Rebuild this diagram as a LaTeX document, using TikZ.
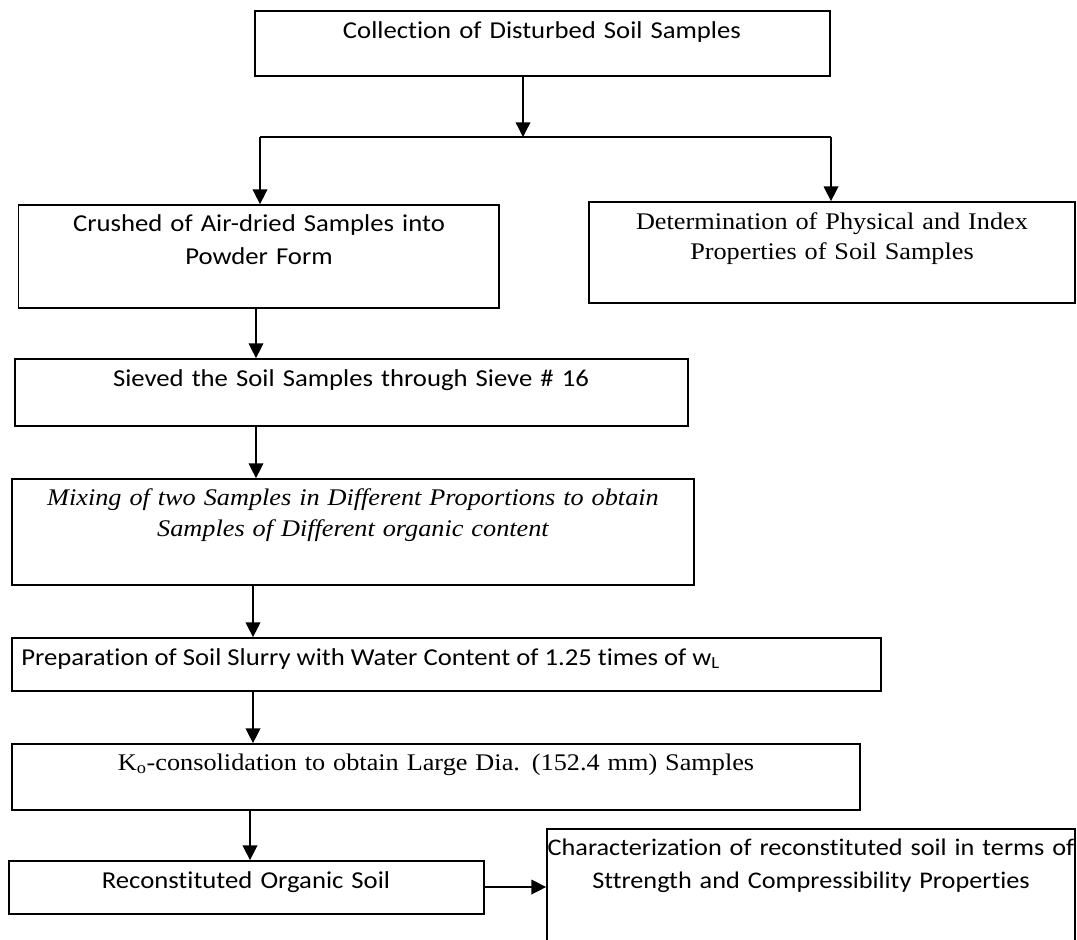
\documentclass[tikz,border=0pt]{standalone}
\usepackage{fontspec}
\setmainfont{Carlito}[FakeStretch=1.1, Ligatures={NoCommon}]
\newfontfamily\tnr{Liberation Serif}[FakeStretch=1.1]
\usetikzlibrary{arrows.meta,fit}
\begin{document}
\begin{tikzpicture}[x=0.75pt,y=-0.75pt,
  box/.style={draw, line width=1.3pt, inner sep=0pt},
  txt/.style={inner sep=0pt, anchor=base, text width=760pt, align=center,
              font=\fontsize{18.2}{24.75}\selectfont},
  txtl/.style={inner sep=0pt, anchor=base west, font=\fontsize{18.2}{24.75}\selectfont},
  ttxt/.style={txt, font=\tnr\fontsize{17.9}{22.5}\selectfont},
  conn/.style={line width=1pt},
  arr/.style={line width=1pt, -{Triangle[length=11pt,width=11pt]}}]
\useasboundingbox (0,0) rectangle (1077,939);
\clip (0,0) rectangle (1077,939);

% boxes
\node[box, fit={(255,11) (830,76)}] (b1) {};
\node[box, fit={(18.5,205) (499,308)}] (b2) {};
\node[box, fit={(589,202) (1075,303)}] (b3) {};
\node[box, fit={(15,359) (688,426)}] (b4) {};
\node[box, fit={(12,479) (694,585)}] (b5) {};
\node[box, fit={(12,638) (881,691)}] (b6) {};
\node[box, fit={(12,744) (860,810)}] (b7) {};
\node[box, fit={(9,861) (484,914)}] (b8) {};
\node[box, fit={(547,829) (1075,960)}] (b9) {};

% texts
\node[txt] (t1) at (542,38) {Collection of Disturbed Soil Samples};
\node[txt] (t2) at (259,231) {Crushed of Air-dried Samples into\\Powder Form};
\node[ttxt] (t3) at (832,229) {Determination of Physical and Index\\Properties of Soil Samples};
\node[txt] (t4) at (351,386) {Sieved the Soil Samples through Sieve \# 16};
\node[ttxt, font=\tnr\itshape\fontsize{17.9}{23.25}\selectfont] (t5) at (353,505)
  {Mixing of two Samples in Different Proportions to obtain\\Samples of Different organic content};
\node[txtl] (t6) at (21,665) {Preparation of Soil Slurry with Water Content of 1.25 times of w\textsubscript{L}};
\node[ttxt] (t7) at (436,770) {K\textsubscript{o}-consolidation to obtain Large Dia. (152.4 mm) Samples};
\node[txt] (t8) at (246,888) {Reconstituted Organic Soil};
\node[txt, font=\fontsize{17.9}{24.75}\selectfont] (t9) at (811,855)
  {Characterization of reconstituted soil in terms of\\Sttrength and Compressibility Properties};

% connector coordinates
\coordinate (j) at (523,137);
\coordinate (jl) at (260,137);
\coordinate (jr) at (831,137);
\coordinate (xa) at (256,0);
\coordinate (xb) at (253,0);
\coordinate (xc) at (250,0);
\coordinate (ya) at (0,887);

% connectors
\draw[arr] (b1.south -| j) -- (j);
\draw[conn] (jl) -- (jr);
\draw[arr] (jl) -- (b2.north -| jl);
\draw[arr] (jr) -- (b3.north -| jr);
\draw[arr] (b2.south -| xa) -- (b4.north -| xa);
\draw[arr] (b4.south -| xa) -- (b5.north -| xa);
\draw[arr] (b5.south -| xb) -- (b6.north -| xb);
\draw[arr] (b6.south -| xb) -- (b7.north -| xb);
\draw[arr] (b7.south -| xc) -- (b8.north -| xc);
\draw[arr] (b8.east |- ya) -- (b9.west |- ya);
\end{tikzpicture}
\end{document}
